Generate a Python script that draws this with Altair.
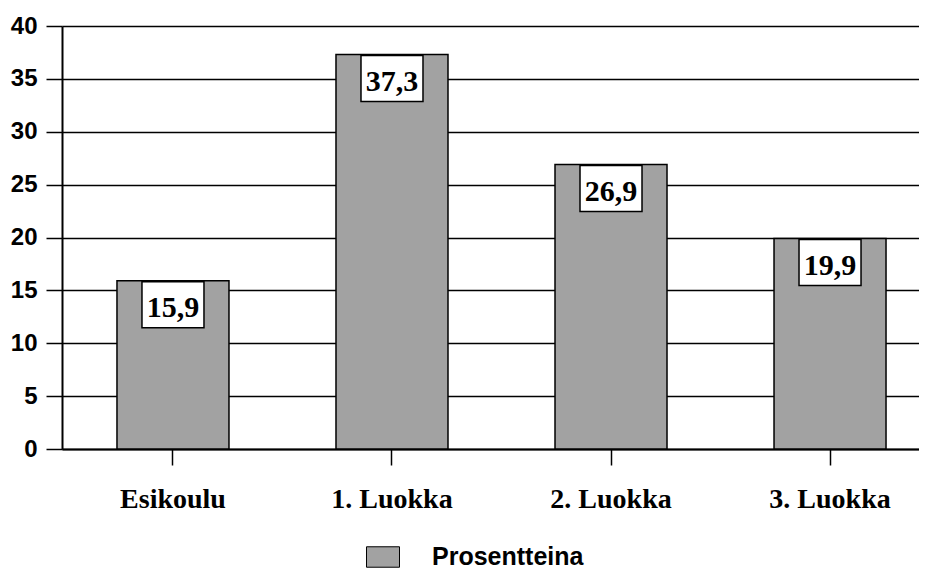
import altair as alt
import pandas as pd

categories = ["Esikoulu", "1. Luokka", "2. Luokka", "3. Luokka"]
values = [15.9, 37.3, 26.9, 19.9]
series_name = "Prosentteina"
y_ticks = [0, 5, 10, 15, 20, 25, 30, 35, 40]

df = pd.DataFrame({
    "cat": categories,
    "val": values,
    "series": [series_name] * len(categories),
    "label": [f"{v:.1f}".replace(".", ",") for v in values],
})

x = alt.X(
    "cat:N", sort=categories,
    scale=alt.Scale(range=[0, 879], paddingInner=0.4886, paddingOuter=0.251),
    axis=alt.Axis(title=None, labelAngle=0, labelFont="Liberation Serif",
                  labelFontSize=28, labelFontWeight="bold", labelColor="black",
                  labelPadding=20, tickSize=16, tickColor="black", tickWidth=1.5,
                  domainColor="black", domainWidth=2, grid=False),
)
y = alt.Y(
    "val:Q", scale=alt.Scale(domain=[0, 40]),
    axis=alt.Axis(title=None, values=y_ticks, grid=True, gridColor="black",
                  gridWidth=1.5, gridOpacity=1, tickSize=16, tickColor="black",
                  tickWidth=1.5, domainColor="black", domainWidth=2,
                  labelFont="Liberation Sans", labelFontSize=24,
                  labelFontWeight="bold", labelColor="black", labelPadding=9),
)

base = alt.Chart(df)

bars = base.mark_bar(stroke="black", strokeWidth=1.5, opacity=1).encode(
    x=x, y=y,
    color=alt.Color("series:N", title=None,
                    scale=alt.Scale(range=["#a2a2a2"]),
                    legend=alt.Legend(orient="none", legendX=304, legendY=514,
                                      padding=0,
                                      symbolType="M-1,-0.62L1,-0.62L1,0.62L-1,0.62Z",
                                      symbolSize=1089, symbolStrokeColor="black",
                                      symbolStrokeWidth=1, symbolOpacity=1,
                                      labelFont="Liberation Sans", labelFontSize=25,
                                      labelFontWeight="bold", labelColor="black",
                                      labelOffset=32)),
)

boxes = base.mark_point(
    shape="M-1,-0.742L1,-0.742L1,0.742L-1,0.742Z", size=3844, filled=True,
    fill="white", stroke="black", strokeWidth=1.5, opacity=1, yOffset=24,
).encode(x=x, y=y)

texts = base.mark_text(
    font="Liberation Serif", fontSize=30, fontWeight="bold", color="black",
    baseline="alphabetic", dy=36,
).encode(x=x, y=y, text="label:N")

chart = alt.layer(bars, boxes, texts).properties(
    width=857, height=423,
    autosize=alt.AutoSizeParams(type="none"),
    padding={"left": 54, "top": 18, "right": 0, "bottom": 121},
    background="white",
).configure_view(stroke=None)

chart.save("out.html", embed_options={"renderer": "svg", "actions": False})
